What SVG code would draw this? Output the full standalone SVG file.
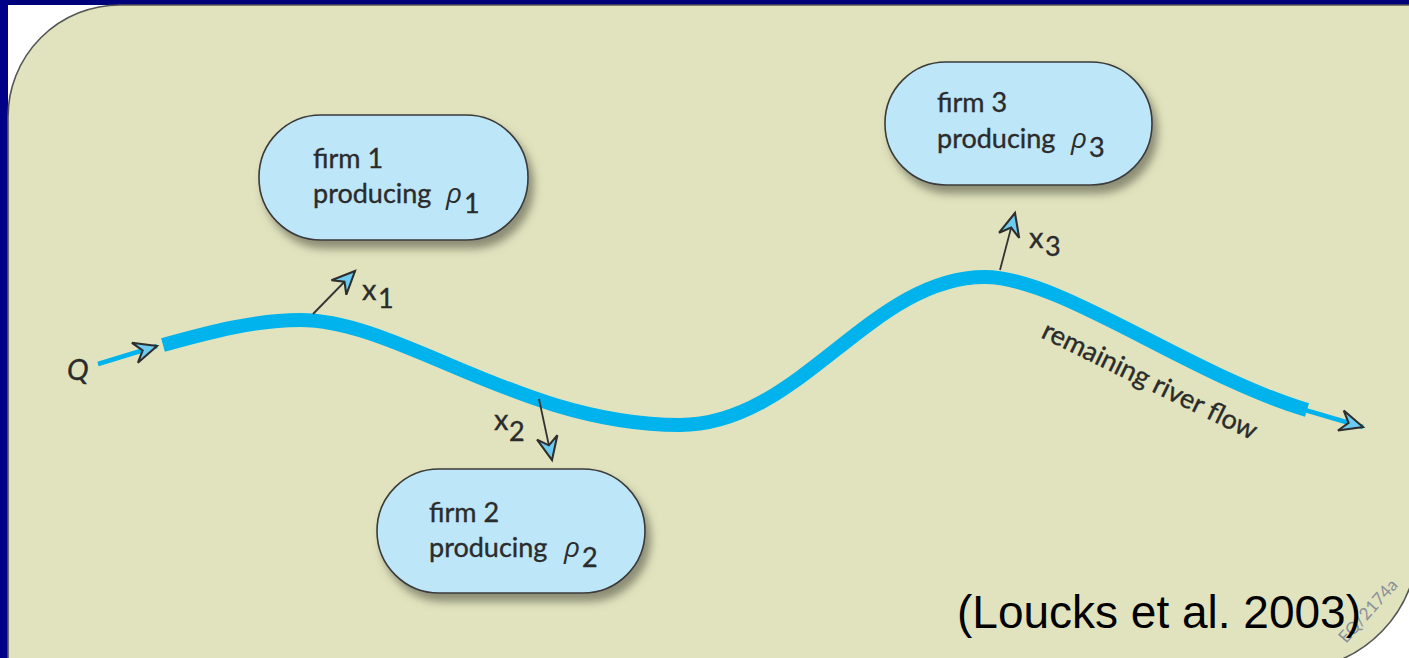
<svg xmlns="http://www.w3.org/2000/svg" width="1409" height="658" viewBox="0 0 1409 658">
  <style>
    .lbl { font-family: Lato, "Open Sans", "Liberation Sans", sans-serif; font-size: 27px; fill: #2b2b2b; stroke: #2b2b2b; stroke-width: 0.35; }
    .sub { font-family: Lato, "Open Sans", "Liberation Sans", sans-serif; font-size: 27px; fill: #2b2b2b; stroke: #2b2b2b; stroke-width: 0.35; }
    .xv { font-family: Lato, "Open Sans", "Liberation Sans", sans-serif; font-size: 29px; fill: #2b2b2b; stroke: #2b2b2b; stroke-width: 0.35; }
    .rho { font-family: "Open Sans", "DejaVu Sans", sans-serif; font-style: italic; font-size: 28px; fill: #2b2b2b; }
    .box { fill: #bde6f8; stroke: #3a3a3a; stroke-width: 1.6; filter: url(#shadow); }
    .river { fill: none; stroke: #00b3ec; stroke-width: 14; stroke-linecap: butt; }
    .thin { fill: none; stroke: #00b3ec; stroke-width: 4.5; }
    .flow { fill: none; stroke: #333; stroke-width: 1.8; }
  </style>
  <defs>
    <filter id="shadow" x="-10%" y="-10%" width="130%" height="140%">
      <feDropShadow dx="5" dy="8" stdDeviation="4" flood-color="#5f5f50" flood-opacity="0.65"/>
    </filter>
    <marker id="head" markerUnits="userSpaceOnUse" markerWidth="30" markerHeight="30" viewBox="-22 -11 26 22" refX="0" refY="0" orient="auto">
      <path d="M0,0 L-20,-9 L-13,0 L-20,9 Z" fill="#6ccbf0" stroke="#2e2e2e" stroke-width="1.8" stroke-linejoin="miter"/>
    </marker>
  </defs>

  <!-- frame -->
  <rect x="0" y="0" width="1409" height="658" fill="#ffffff"/>
  <rect x="0" y="0" width="1409" height="5" fill="#00007a"/>
  <rect x="0" y="0" width="8" height="658" fill="#000088"/>
  <path d="M8,660 L8,117 A112,112 0 0 1 120,5 L1410,5 L1410,587 A128,128 0 0 1 1340,660 Z" fill="#e0e3bd" stroke="#555" stroke-width="1.6"/>

  <!-- connectors -->
  <g id="connectors">
    <path class="thin" d="M98,364 L157,346" marker-end="url(#head)"/>
    <path class="river" d="M163,345 C210,332 255,320 300,320 C400,320 520,425 680,425 C800,425 870,277 985,277 C1060,277 1190,375 1307,410"/>
    <path class="thin" d="M1305,410 L1363,427" marker-end="url(#head)"/>
    <path class="flow" d="M313,314 L355,271" marker-end="url(#head)"/>
    <path class="flow" d="M539,399 L552,460" marker-end="url(#head)"/>
    <path class="flow" d="M1000,270 L1015,213" marker-end="url(#head)"/>
  </g>

  <!-- flow labels -->
  <g id="labels">
    <text class="xv" x="67" y="380" font-size="31" font-style="italic">Q</text>
    <text class="xv" x="362" y="300">x</text><text class="sub" x="378" y="308">1</text>
    <text class="xv" x="494" y="430">x</text><text class="sub" x="509" y="441">2</text>
    <text class="xv" x="1029" y="248">x</text><text class="sub" x="1045" y="256">3</text>
    <text class="sub" x="1040" y="337" transform="rotate(26 1040 337)">remaining river flow</text>
  </g>

  <g id="firm1">
    <rect class="box" x="259" y="115" width="269" height="125" rx="62" ry="62"/>
    <text class="lbl" x="313" y="168">firm 1</text>
    <text class="lbl" x="313" y="203">producing</text>
    <text class="rho" x="446" y="203">ρ</text>
    <text class="sub" x="464" y="213">1</text>
  </g>

  <g id="firm2">
    <rect class="box" x="377" y="469" width="268" height="124" rx="62" ry="62"/>
    <text class="lbl" x="429" y="522">firm 2</text>
    <text class="lbl" x="429" y="557">producing</text>
    <text class="rho" x="564" y="557">ρ</text>
    <text class="sub" x="582" y="567">2</text>
  </g>

  <g id="firm3">
    <rect class="box" x="885" y="62" width="267" height="123" rx="61" ry="61"/>
    <text class="lbl" x="937" y="112">firm 3</text>
    <text class="lbl" x="937" y="148">producing</text>
    <text class="rho" x="1071" y="148">ρ</text>
    <text class="sub" x="1089" y="157">3</text>
  </g>

  <!-- figure code and source -->
  <text x="1346" y="644" transform="rotate(-48 1346 644)" font-family="Lato, 'Liberation Sans', sans-serif" font-size="17" fill="#8a8f9a">EQ/2174a</text>
  <text x="957" y="628" font-family="'Liberation Sans', Arial, sans-serif" font-size="46" fill="#000">(Loucks et al. 2003)</text>
</svg>
